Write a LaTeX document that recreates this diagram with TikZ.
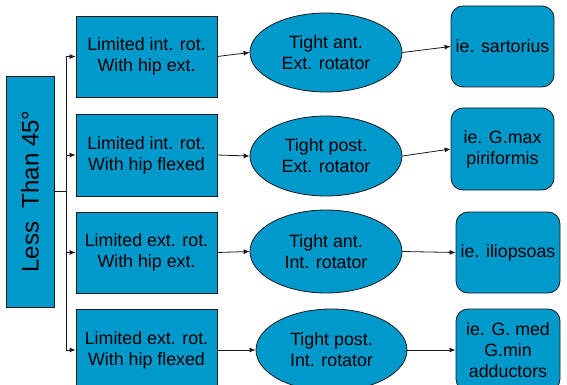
\documentclass[tikz,border=0pt]{standalone}
\usepackage{fontspec}
\setmainfont{Liberation Sans}
\usetikzlibrary{shapes.geometric,arrows.meta}
\definecolor{boxblue}{HTML}{0099CC}
\definecolor{edgedark}{HTML}{1A1A1A}
\tikzset{
  base/.style={draw=edgedark, line width=0.8pt, fill=boxblue, text=black, align=center, inner sep=0pt,
    font=\fontsize{17.8pt}{21pt}\selectfont},
  sqbox/.style={base, rectangle, minimum width=141pt, minimum height=81pt},
  ovalbox/.style={base, ellipse, minimum width=152pt, minimum height=80pt},
  rndbox/.style={base, rectangle, rounded corners=12pt, minimum width=103pt, minimum height=81pt},
  conn/.style={draw=edgedark, line width=0.8pt},
  arr/.style={conn, -{Latex[length=6pt,width=5pt]}}
}
\begin{document}
\begin{tikzpicture}[x=1pt,y=-1pt]
\useasboundingbox (0,0) rectangle (567,385);
\clip (0,0) rectangle (567,385);
\fill[white] (0,0) rectangle (567,385);

\node[base, rectangle, minimum width=48pt, minimum height=231pt] (lt) at (30,191.5) {};
\node[font=\fontsize{24pt}{28pt}\selectfont, rotate=90, text=black] at (lt.center) {Less~ Than 45°};

\node[sqbox] (b1) at (146.5,56.5) {Limited int. rot.\\ With hip ext.};
\node[sqbox, minimum height=82pt] (b2) at (146.5,155) {Limited int. rot.\\With hip flexed};
\node[sqbox] (b3) at (146.5,252.5) {Limited ext. rot.\\With hip ext.};
\node[sqbox, minimum height=82pt] (b4) at (146.5,350) {Limited ext. rot.\\With hip flexed};

\node[ovalbox, minimum height=79pt] (e1) at (326,52.5) {Tight ant.\\ Ext. rotator};
\node[ovalbox] (e2) at (326,156) {Tight post.\\Ext. rotator};
\node[ovalbox, minimum height=83pt] (e3) at (326,251.5) {Tight ant.\\Int. rotator};
\node[ovalbox, minimum width=151pt, minimum height=82pt] (e4) at (331.5,350) {Tight post.\\Int. rotator};

\node[rndbox] (r1) at (502.5,46.5) {ie. sartorius};
\node[rndbox, minimum height=82pt] (r2) at (502.5,149) {ie. G.max\\piriformis};
\node[rndbox, minimum width=104pt] (r3) at (508,252.5) {ie. iliopsoas};
\node[rndbox, minimum width=104pt, minimum height=82pt] (r4) at (508,350) {ie. G. med\\G.min\\adductors};

\coordinate (trunk) at (66,191.5);
\coordinate (j1) at (b1.west -| trunk);
\coordinate (j2) at (b2.west -| trunk);
\coordinate (j3) at (b3.west -| trunk);
\coordinate (j4) at (b4.west -| trunk);

\draw[conn] (lt.east) -- (trunk);
\draw[conn] (j1) -- (j4);
\draw[arr] (j1) -- (b1.west);
\draw[arr] (j2) -- (b2.west);
\draw[arr] (j3) -- (b3.west);
\draw[arr] (j4) -- (b4.west);

\draw[arr] (b1.east) -- (e1.west);
\draw[arr] (b2.east) -- (e2.west);
\draw[arr] (b3.east) -- (e3.west);
\draw[arr] (b4.east) -- (e4.west);

\draw[arr] (e1.east) -- (r1.west);
\draw[arr] (e2.east) -- (r2.west);
\draw[arr] (e3.east) -- (r3.west);
\draw[arr] (e4.east) -- (r4.west);
\end{tikzpicture}
\end{document}
